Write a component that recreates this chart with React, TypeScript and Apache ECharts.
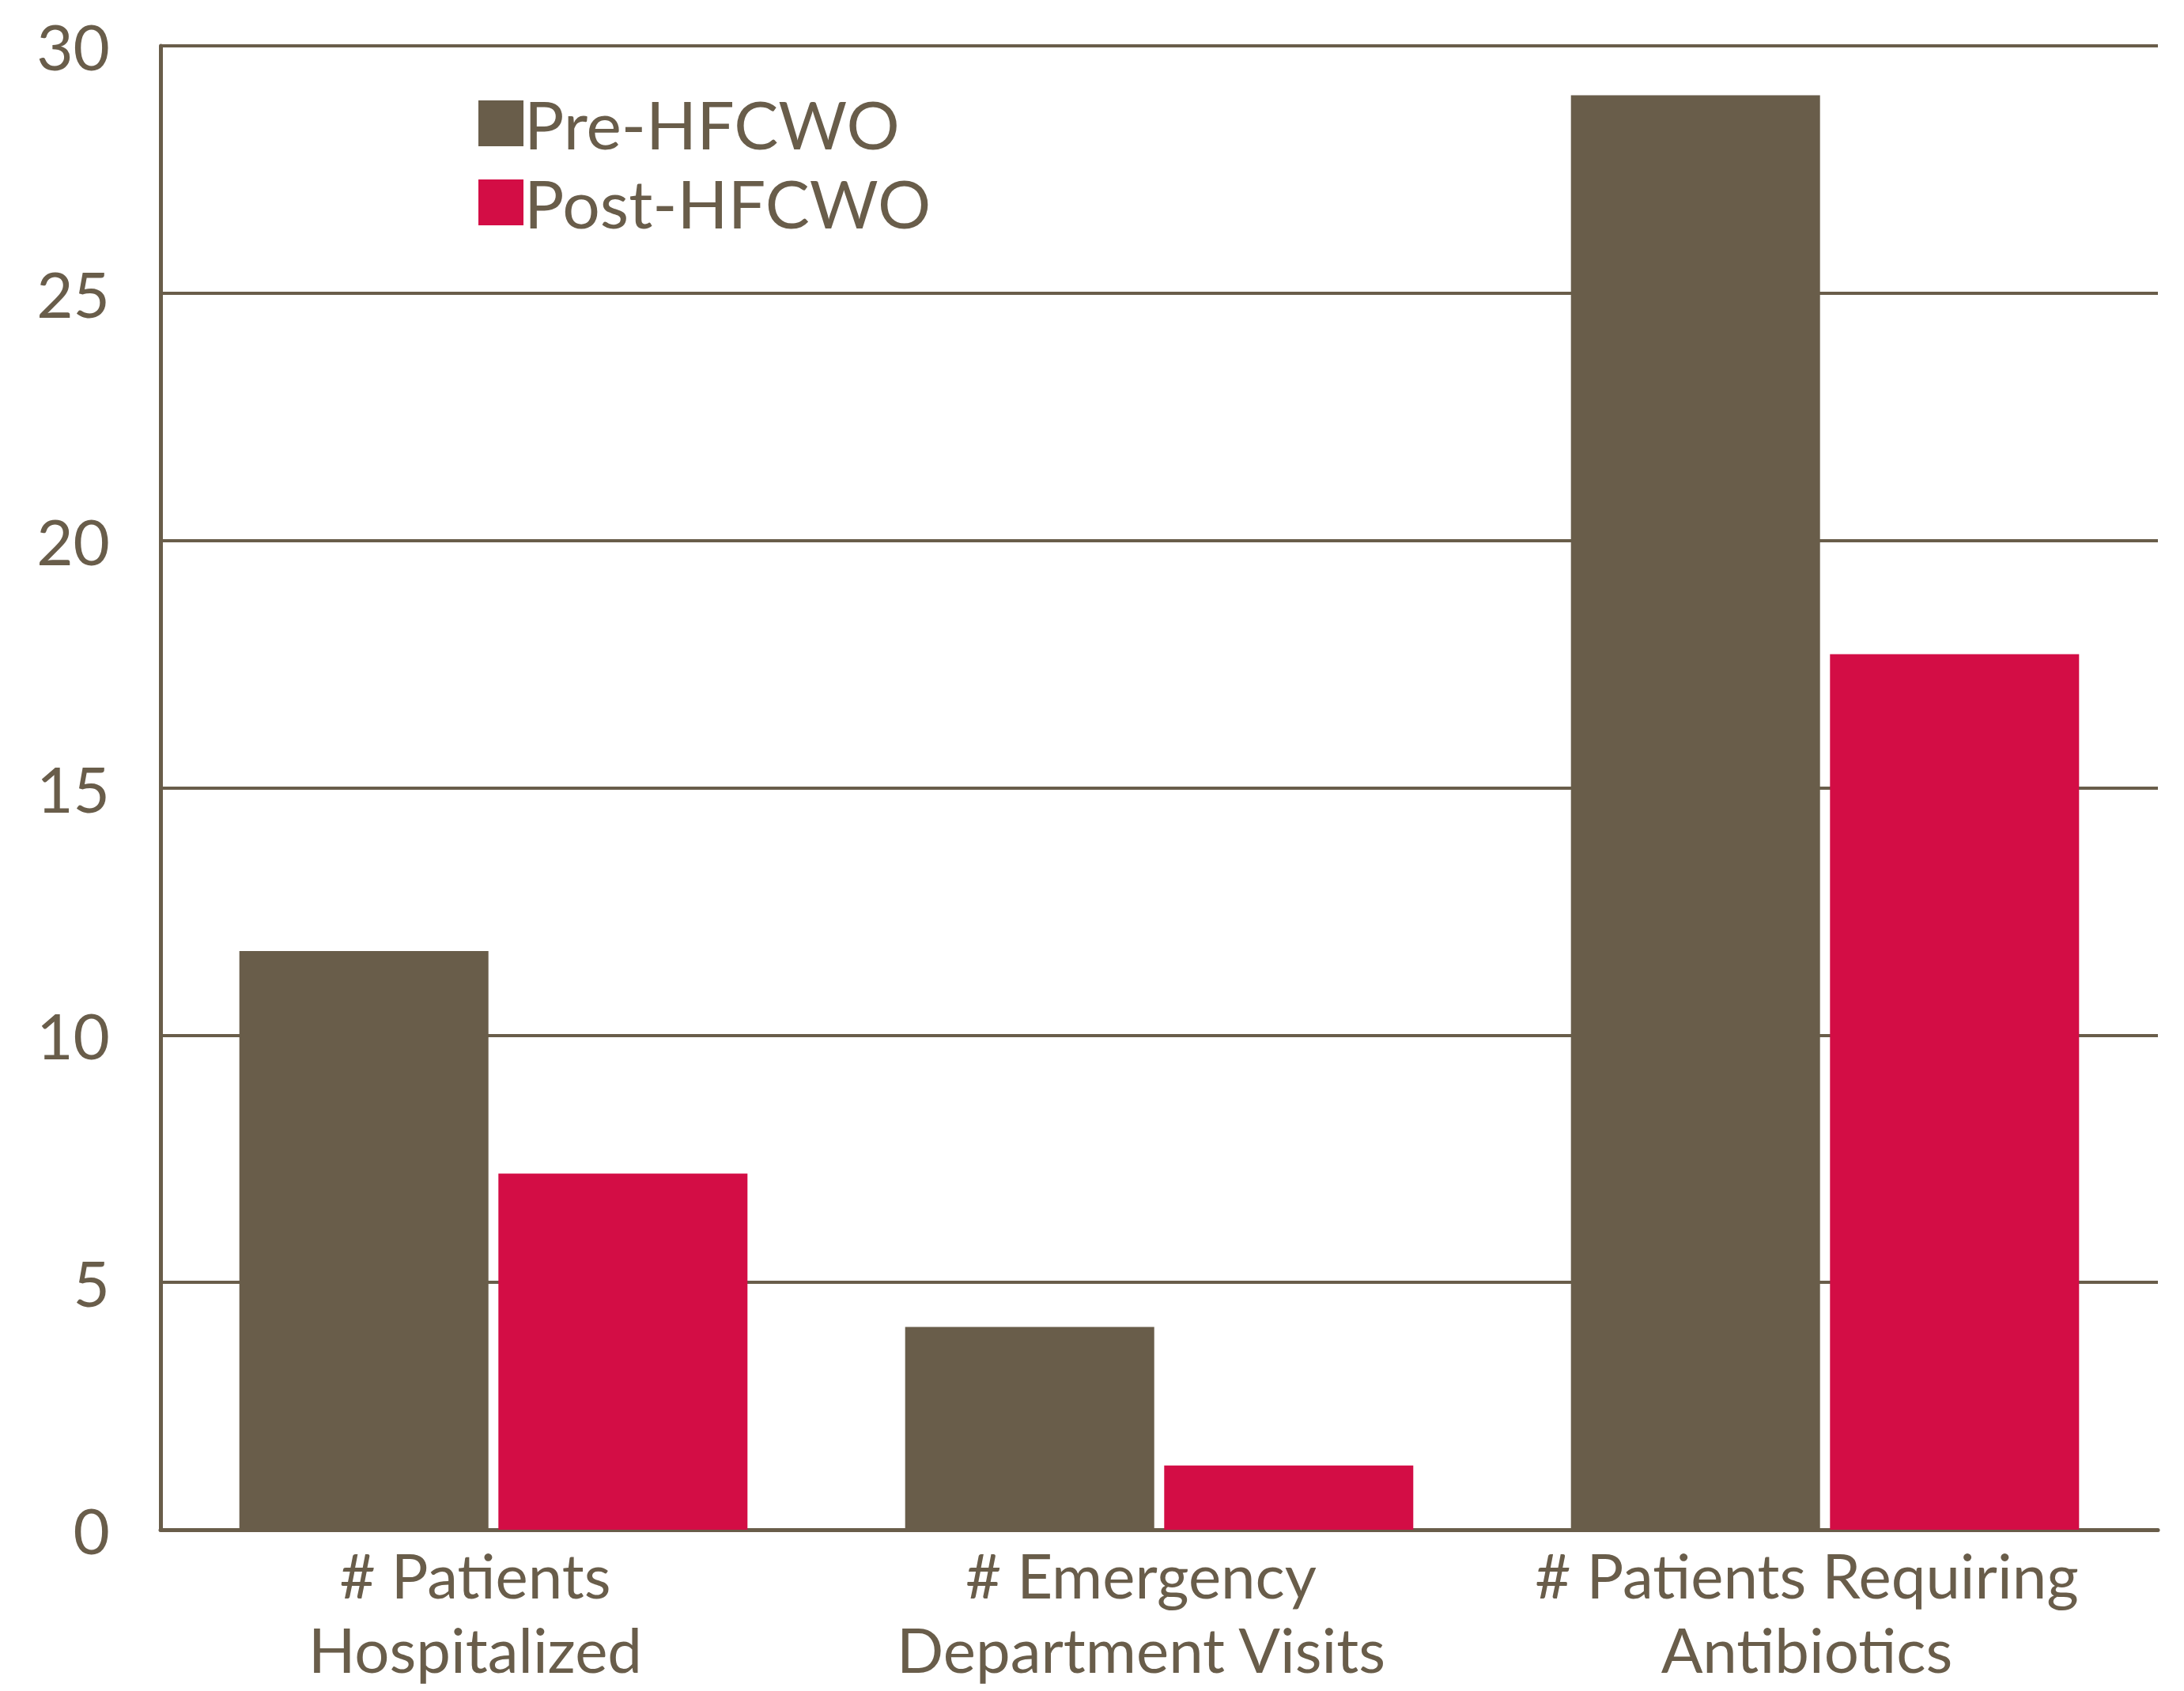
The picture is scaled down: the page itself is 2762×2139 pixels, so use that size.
import React, { useEffect, useRef } from "react";
import * as echarts from "echarts";

const categories = ["# Patients\nHospitalized", "# Emergency\nDepartment Visits", "# Patients Requiring\nAntibiotics"];
const preValues = [11.7, 4.1, 29.0];
const postValues = [7.2, 1.3, 17.7];
const seriesNames = ["Pre-HFCWO", "Post-HFCWO"];

const BROWN = "#695d4a";
const RED = "#d30d45";
const FONT = "Lato";

export default function App() {
  const ref = useRef<HTMLDivElement>(null);
  useEffect(() => {
    const chart = echarts.init(ref.current!, null, { renderer: "svg" });
    chart.setOption({
      animation: false,
      backgroundColor: "#ffffff",
      textStyle: { fontFamily: FONT, color: BROWN },
      grid: { left: 203, right: 33, top: 58, bottom: 204, containLabel: false },
      legend: {
        orient: "vertical",
        left: 605,
        top: 114,
        padding: 0,
        itemWidth: 57,
        itemHeight: 58,
        itemGap: 16,
        icon: "rect",
        textStyle: { fontFamily: FONT, fontSize: 84, lineHeight: 58, color: BROWN, padding: [0, 0, 0, -4] },
        data: seriesNames,
      },
      xAxis: {
        type: "category",
        data: categories,
        axisLine: { show: true, lineStyle: { color: BROWN, width: 5 } },
        axisTick: { show: false },
        axisLabel: {
          fontFamily: FONT,
          fontSize: 78,
          color: BROWN,
          lineHeight: 94,
          margin: 10,
          interval: 0,
          padding: [0, 46, 0, 0],
        },
      },
      yAxis: {
        type: "value",
        min: 0,
        max: 30,
        interval: 5,
        axisLine: { show: true, lineStyle: { color: BROWN, width: 5 } },
        axisTick: { show: false },
        axisLabel: { fontFamily: FONT, fontSize: 80, color: BROWN, margin: 64 },
        splitLine: { show: true, lineStyle: { color: BROWN, width: 4 } },
      },
      series: [
        {
          name: seriesNames[0],
          type: "bar",
          data: preValues,
          itemStyle: { color: BROWN },
          barWidth: 315,
          barGap: "4%",
        },
        {
          name: seriesNames[1],
          type: "bar",
          data: postValues,
          itemStyle: { color: RED },
          barWidth: 315,
          barGap: "4%",
        },
      ],
    });
    return () => chart.dispose();
  }, []);
  return (
    <div
      ref={ref}
      style={{ position: "fixed", left: 0, top: 0, width: 2762, height: 2139 }}
    />
  );
}
